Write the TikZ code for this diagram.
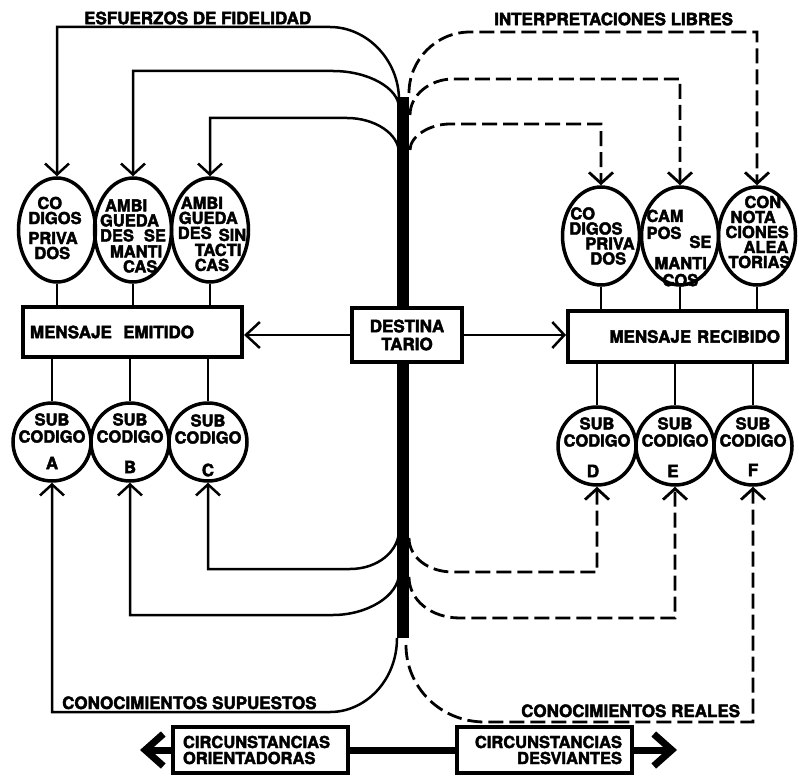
\documentclass[tikz,border=0pt]{standalone}
\usepackage{fontspec}
\setmainfont{TeX Gyre Heros}[BoldFeatures={FakeBold=2.5}]
\usetikzlibrary{arrows.meta,shapes.geometric}
\newcommand{\lblfont}{\fontsize{17}{18}\selectfont\bfseries}
\newcommand{\ovfont}{\fontsize{16.5}{15}\selectfont\bfseries}
\newcommand{\subfont}{\fontsize{16.5}{17}\selectfont\bfseries}
\begin{document}
\begin{tikzpicture}[x=1pt,y=-1pt,
  lbl/.style={font=\lblfont, inner sep=0pt},
  box/.style={draw, line width=4pt, inner sep=0pt, font=\lblfont},
  oval/.style={draw, ellipse, line width=3.5pt, minimum width=77pt, inner sep=0pt},
  ovtxt/.style={font=\ovfont, align=left, inner sep=0pt},
  subc/.style={draw, circle, line width=3.5pt, minimum size=78pt, inner sep=0pt},
  subtxt/.style={font=\subfont, align=center, inner sep=0pt},
  lettr/.style={font=\fontsize{17}{17}\selectfont\bfseries, inner sep=0pt},
  vtip/.style={-{Straight Barb[length=11pt,width=24pt]}},
  link/.style={line width=2.5pt, vtip},
  dlink/.style={line width=2.8pt, dash pattern=on 15pt off 6pt, vtip},
  stem/.style={line width=2.5pt},
  fat/.style={line width=7pt},
  fattip/.style={-{Straight Barb[length=18pt,width=32pt]}}]
\useasboundingbox (0,0) rectangle (799,775);

% central trunk and the receiver
\node[fill=black, minimum width=12pt, minimum height=541pt, inner sep=0pt] (bar) at (403,367.5) {};
\node[box, fill=white, minimum width=110pt, minimum height=54pt, align=center,
      font=\fontsize{17}{18}\selectfont\bfseries] (dest) at (407,335) {DESTINA\\TARIO};

% message boxes
\node[box, minimum height=50pt, text width=205pt, inner xsep=7pt, align=left] (emit) at (132.5,332) {MENSAJE\ \ EMITIDO};
\node[box, minimum height=51pt, text width=205pt, inner xsep=7pt, align=right] (recv) at (677.5,336.5) {MENSAJE RECIBIDO};

% ovals, sender side
\node[oval, minimum height=104pt] (a1) at (57,230) {};
\node[oval, minimum height=104pt] (a2) at (133,230) {};
\node[oval, minimum height=104pt] (a3) at (210,230) {};
\node[ovtxt] (ta1) at (55,228) {\hspace*{9pt}CO\\DIGOS\\[5pt]PRIVA\\\hspace*{6pt}DOS};
\node[ovtxt] (ta2) at (133,236) {\hspace*{5pt}AMBI\\GUEDA\\DES\hspace{10pt}SE\\[1pt]\hspace*{10pt}MANTI\\\hspace*{23pt}CAS};
\node[ovtxt] (ta3) at (212,234) {\hspace*{3pt}AMBI\\\hspace*{1pt}GUEDA\\DES\hspace{7pt}\raisebox{-2pt}{SIN}\\[2pt]\hspace*{17pt}TACTI\\\hspace*{17pt}CAS};

% ovals, receiver side
\node[oval, minimum height=98pt] (b1) at (601,236) {};
\node[oval, minimum height=98pt] (b2) at (680,236) {};
\node[oval, minimum height=98pt] (b3) at (757,236) {};
\node[ovtxt] (tb1) at (602,236) {\hspace*{1pt}CO\\DIGOS\\\hspace*{16pt}PRIVA\\\hspace*{21pt}DOS};
\node[ovtxt] (tb2) at (679,248) {CAM\\[2pt]POS\hspace{8pt}\raisebox{-9pt}{SE}\\[8pt]\hspace*{8pt}MANTI\\[2pt]\hspace*{16pt}COS};
\node[ovtxt] (tb3) at (758,232) {\hspace*{19pt}CON\\\hspace*{5pt}NOTA\\CIONES\\\hspace*{18pt}ALEA\\\hspace*{3pt}TORIAS};

% subcodes
\node[subc] (c1) at (52,442) {};
\node[subc] (c2) at (130,442) {};
\node[subc] (c3) at (208,442) {};
\node[subc] (d1) at (597,446) {};
\node[subc] (d2) at (675,446) {};
\node[subc] (d3) at (753,446) {};
\node[subtxt] (tc1) at (52,428) {SUB\\CODIGO};
\node[subtxt] (tc2) at (130,428) {SUB\\CODIGO};
\node[subtxt] (tc3) at (208,429) {SUB\\CODIGO};
\node[subtxt] (td1) at (597,432) {SUB\\CODIGO};
\node[subtxt] (td2) at (675,432) {SUB\\CODIGO};
\node[subtxt] (td3) at (753,432) {SUB\\CODIGO};
\node[lettr] (lc1) at (52,463) {A};
\node[lettr] (lc2) at (130,467) {B};
\node[lettr] (lc3) at (208,470) {C};
\node[lettr] (ld1) at (593,471) {D};
\node[lettr] (ld2) at (673,471) {E};
\node[lettr] (ld3) at (753,470) {F};

% stems between ovals, boxes and subcodes
\foreach \n in {a1,a2,a3} \draw[stem] (\n.south) -- (\n.south |- emit.north);
\foreach \n in {b1,b2,b3} \draw[stem] (\n.south) -- (\n.south |- recv.north);
\foreach \n in {c1,c2,c3} \draw[stem] (emit.south -| \n.north) -- (\n.north);
\foreach \n in {d1,d2,d3} \draw[stem] (recv.south -| \n.north) -- (\n.north);

% receiver to both messages
\draw[line width=2.5pt, -{Straight Barb[length=14pt,width=26pt]}] (dest.west) -- (emit.east |- dest.west);
\draw[line width=2.5pt, -{Straight Barb[length=12pt,width=26pt]}] (dest.east) -- (recv.west |- dest.east);

% branch points on the trunk
\coordinate (jL1) at (399,100);
\coordinate (jL2) at (399,108);
\coordinate (jL3) at (399,153);
\coordinate (jR1) at (409,93);
\coordinate (jR2) at (410,115);
\coordinate (jR3) at (410,150);
\coordinate (jL4) at (399,530);
\coordinate (jL5) at (399,573);
\coordinate (jL6) at (397,638);
\coordinate (jR4) at (409,538);
\coordinate (jR5) at (409,577);
\coordinate (jR6) at (406,645);

% fidelity efforts
\draw[link] (jL1) .. controls (399,60) and (367,27) .. (330,27) -| (a1.north);
\draw[link] (jL2) .. controls (399,88) and (368,71) .. (333,71) -| (a2.north);
\draw[link] (jL3) .. controls (399,134) and (375,118) .. (347,118) -| (a3.north);
% free interpretations
\draw[dlink] (jR1) .. controls (409,60) and (436,32) .. (470,32) -| (b3.north);
\draw[dlink] (jR2) .. controls (410,95) and (430,79) .. (453,79) -| (b2.north);
\draw[dlink] (jR3) .. controls (410,136) and (430,124) .. (450,124) -| (b1.north);
% assumed knowledge
\draw[link] (jL4) .. controls (399,551) and (378,569) .. (350,569) -| (c3.south);
\draw[link] (jL5) .. controls (399,596) and (367,615) .. (333,615) -| (c2.south);
\draw[link] (jL6) .. controls (397,680) and (366,712) .. (330,712) -| (c1.south);
% real knowledge
\draw[dlink] (jR4) .. controls (409,557) and (428,572) .. (453,572) -| (d1.south);
\draw[dlink] (jR5) .. controls (409,600) and (431,618) .. (460,618) -| (d2.south);
\draw[dlink] (jR6) .. controls (406,687) and (440,722) .. (485,722) -| (d3.south);

% labels
\node[lbl, anchor=west] (lf) at (84,18) {ESFUERZOS DE FIDELIDAD};
\node[lbl, anchor=west] (li) at (494,19) {INTERPRETACIONES LIBRES};
\node[lbl, anchor=base west] (ls) at (62,709) {CONOCIMIENTOS SUPUESTOS};
\node[lbl, anchor=base west] (lr) at (521,717) {CONOCIMIENTOS REALES};

% circumstances
\node[box, minimum height=46pt, text width=155pt, inner xsep=10pt, align=left,
      font=\fontsize{16.5}{16}\selectfont\bfseries] (orient) at (260.5,750) {CIRCUNSTANCIAS\\ORIENTADORAS};
\node[box, minimum height=46pt, text width=155pt, inner xsep=10pt, align=right,
      font=\fontsize{16.5}{16}\selectfont\bfseries] (desv) at (544.5,750) {CIRCUNSTANCIAS\\DESVIANTES};
\coordinate (ltip) at (140,750);
\coordinate (rtip) at (677,750);
\draw[fat] (orient.east) -- (desv.west);
\draw[fat, fattip] (orient.west) -- (ltip);
\draw[fat, fattip] (desv.east) -- (rtip);
\end{tikzpicture}
\end{document}
